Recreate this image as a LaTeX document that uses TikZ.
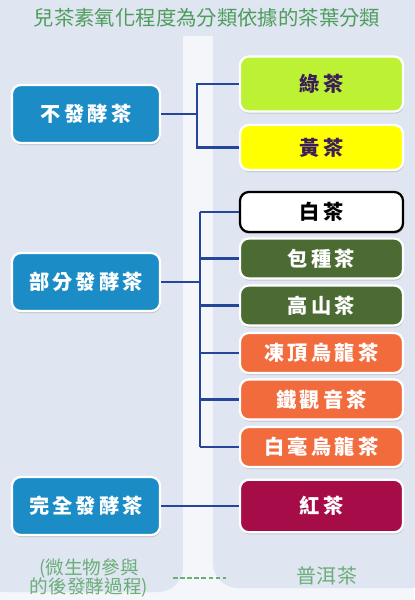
\documentclass[tikz,border=0pt]{standalone}
\usepackage{fontspec}
\usetikzlibrary{positioning,shadows}
\newfontfamily\cjk{Noto Sans CJK TC}
\newfontfamily\cjkbox[LetterSpace=16]{Noto Sans CJK TC}

\definecolor{panelbg}{HTML}{DFE5F1}
\definecolor{gapbg}{HTML}{F4F6FA}
\definecolor{catblue}{HTML}{1B8CC6}
\definecolor{linkblue}{HTML}{24479A}
\definecolor{titlegreen}{HTML}{4F9D5C}
\definecolor{notegreen}{HTML}{6AAE78}
\definecolor{limegreen}{HTML}{BDF234}
\definecolor{teayellow}{HTML}{FFFF00}
\definecolor{leafgreen}{HTML}{4B6B33}
\definecolor{teaorange}{HTML}{F26B3D}
\definecolor{teacrimson}{HTML}{A60D48}
\definecolor{inkpurple}{HTML}{3B1E58}

\begin{document}
\begin{tikzpicture}[x=0.02cm, y=-0.02cm,
    cat/.style={draw=white, line width=1.3pt, fill=catblue, rounded corners=5pt,
      minimum width=2.96cm, minimum height=1.16cm, text=white,
      font=\cjkbox\bfseries\fontsize{11.5pt}{13pt}\selectfont,
      drop shadow={shadow xshift=0.4pt, shadow yshift=-1.2pt, opacity=0.3}},
    tea/.style={draw=white, line width=1.3pt, rounded corners=5pt,
      minimum width=3.26cm, text=white,
      font=\cjkbox\bfseries\fontsize{11.5pt}{13pt}\selectfont,
      drop shadow={shadow xshift=0.4pt, shadow yshift=-1.2pt, opacity=0.3}},
    link/.style={draw=linkblue, line width=1.3pt}]
  \useasboundingbox (0,0) rectangle (414,600);
  % backdrop
  \fill[gapbg] (0,0) rectangle (414,600);
  \fill[panelbg, rounded corners=0.5cm] (-20,-20) rectangle (183,592);
  \fill[panelbg, rounded corners=0.5cm] (213,-20) rectangle (434,588);
  \fill[panelbg] (0,0) rectangle (414,36);

  \node[text=titlegreen, font=\cjk\fontsize{11.6pt}{13pt}\selectfont] (title) at (207,18) {兒茶素氧化程度為分類依據的茶葉分類};

  % categories
  \node[cat] (nofer) at (86,114) {不發酵茶};
  \node[cat] (partfer) at (86,282) {部分發酵茶};
  \node[cat] (fullfer) at (86,506) {完全發酵茶};

  % teas
  \node[tea, fill=limegreen, text=inkpurple, minimum height=1.1cm] (green) at (321.5,84) {綠茶};
  \node[tea, fill=teayellow, text=inkpurple, minimum height=0.9cm] (yellow) at (321.5,147.5) {黃茶};
  \node[tea, draw=black, fill=white, text=black, minimum height=0.8cm] (white) at (321.5,212) {白茶};
  \node[tea, fill=leafgreen, minimum height=0.8cm] (baozhong) at (321.5,258.5) {包種茶};
  \node[tea, fill=leafgreen, minimum height=0.8cm] (gaoshan) at (321.5,305.5) {高山茶};
  \node[tea, fill=teaorange, minimum height=0.8cm] (dongding) at (321.5,353) {凍頂烏龍茶};
  \node[tea, fill=teaorange, minimum height=0.8cm] (tieguanyin) at (321.5,399.5) {鐵觀音茶};
  \node[tea, fill=teaorange, minimum height=0.8cm] (baihao) at (321.5,447) {白毫烏龍茶};
  \node[tea, fill=teacrimson, minimum height=1.05cm] (black) at (321.5,506) {紅茶};

  % forks
  \coordinate (forkA) at (197,0);
  \coordinate (forkB) at (200,0);
  \draw[link] (nofer.east) -- (nofer.east -| forkA);
  \draw[link] (green.west) -| (forkA |- yellow.west) -- (yellow.west);
  \draw[link] (partfer.east) -- (partfer.east -| forkB);
  \draw[link] (forkB |- white.west) -- (forkB |- baihao.west);
  \foreach \t in {white,baozhong,gaoshan,dongding,tieguanyin,baihao}
    \draw[link] (\t.west) -- (\t.west -| forkB);
  \draw[link] (fullfer.east) -- (black.west);

  % bottom notes
  \node[text=notegreen, align=center, inner sep=0pt, font=\cjk\fontsize{10.6pt}{11.2pt}\selectfont] (note) at (89,578) {(微生物參與\\的後發酵過程)};
  \node[text=notegreen, font=\cjk\fontsize{11.4pt}{13pt}\selectfont] (puer) at (327,576) {普洱茶};
  \draw[notegreen, dash pattern=on 2.4pt off 1.6pt, line width=0.8pt, shorten <=0.5cm, shorten >=1.3cm] (note.east) -- (note.east -| puer.west);
\end{tikzpicture}
\end{document}
